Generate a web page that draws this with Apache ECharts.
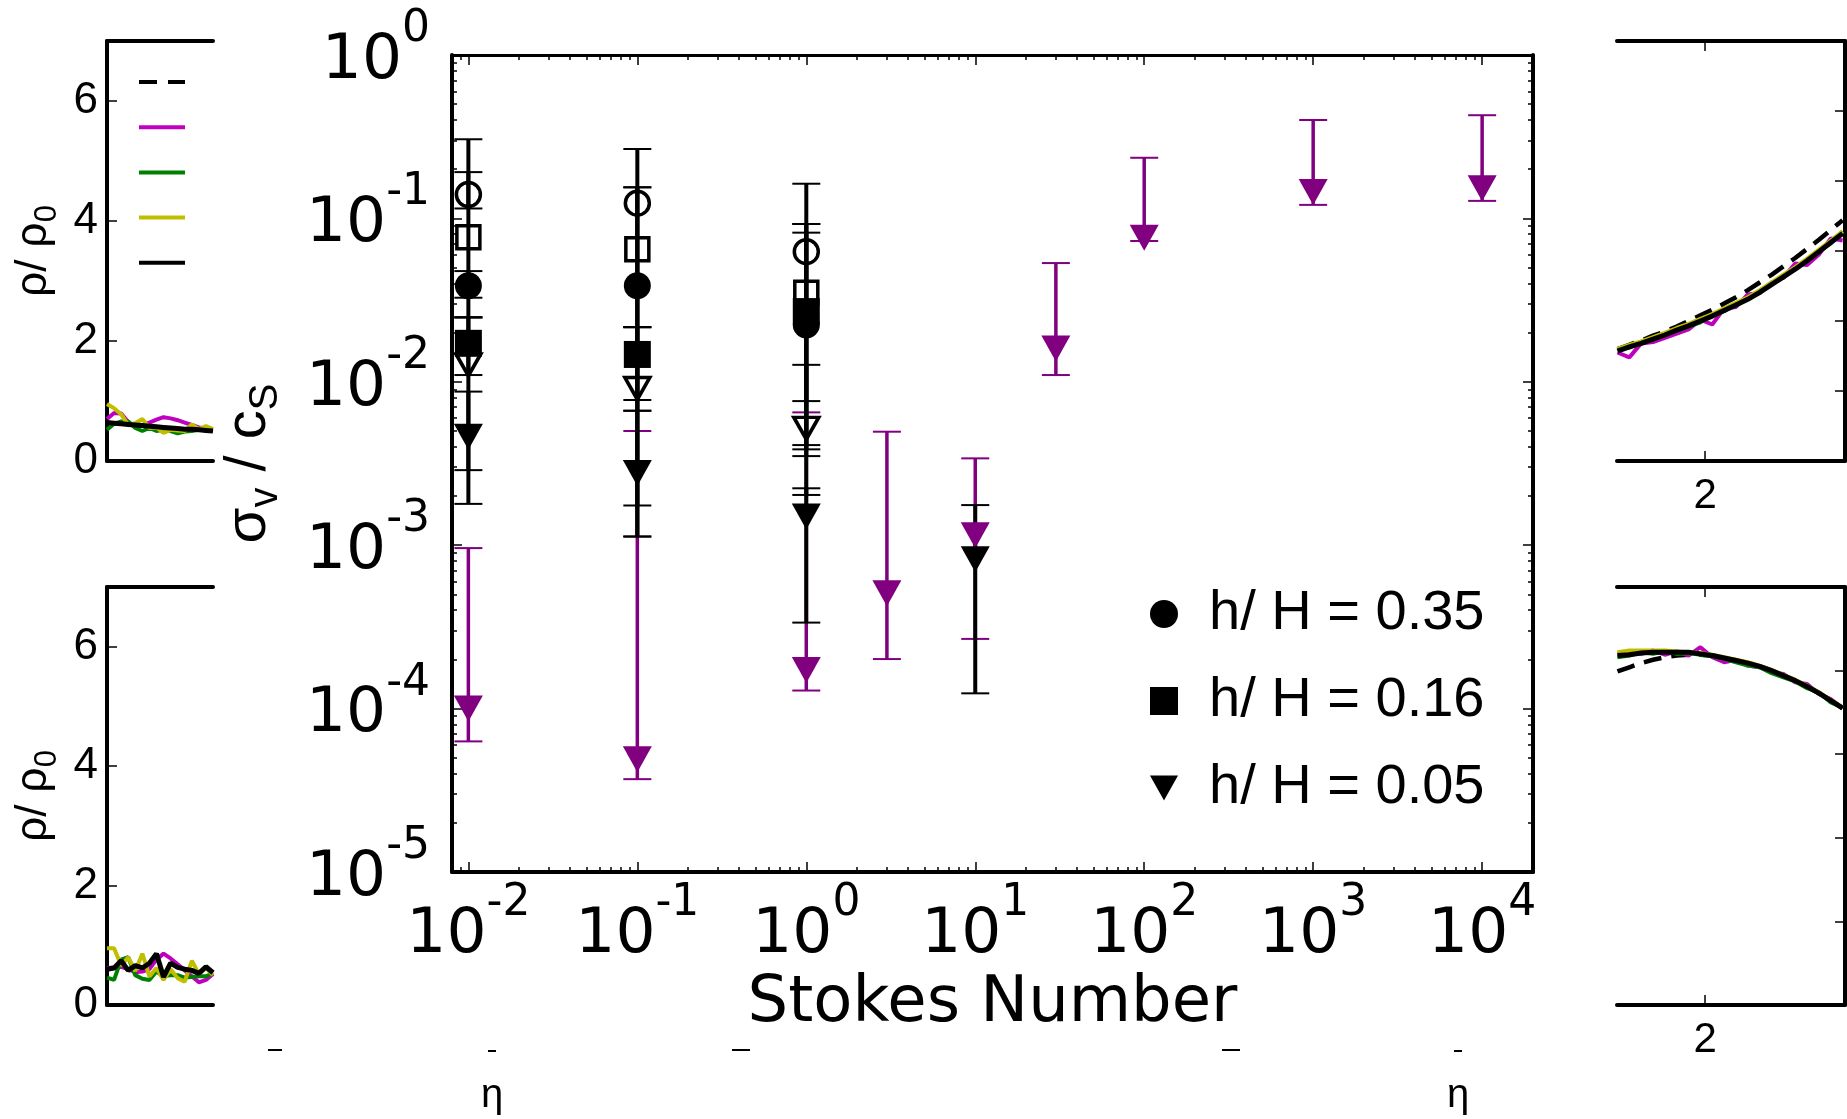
<!DOCTYPE html>
<html><head><meta charset="utf-8">
<script src="https://cdn.jsdelivr.net/npm/echarts@6/dist/echarts.min.js"></script>
<style>html,body{margin:0;padding:0;background:#fff}#c{width:1847px;height:1119px}</style>
</head><body><div id="c"></div>
<script>
// ================= MAIN PANEL DATA =================
const stokesBlack = [0.01, 0.1, 1];
const stokesBlackTri = [0.01, 0.1, 1, 10];
const stokesPurple = [0.01, 0.1, 1, 3, 10, 30, 100, 1000, 10000];

// open circles
const ocVal = [0.140, 0.124, 0.0626];
const ocLo  = [0.115, 0.00113, 0.00762];
const ocHi  = [0.305, 0.266, 0.163];
// open squares
const osVal = [0.0766, 0.0647, 0.0351];
const osLo  = [0.0248, 0.0216, 0.00351];
const osHi  = [0.192, 0.155, 0.0924];
// filled circles  (h/H = 0.35)
const fcVal = [0.0387, 0.0387, 0.0223];
const fcLo  = [0.0327, 0.00774, 0.00386];
const fcHi  = [0.0476, 0.155, 0.0924];
// filled squares  (h/H = 0.16)
const fsVal = [0.0172, 0.0147, 0.0269];
const fsLo  = [0.0110, 0.00665, 0.0041];
const fsHi  = [0.0248, 0.0216, 0.0818];
// open triangles
const otVal = [0.0127, 0.0091, 0.00519];
const otLo  = [0.00288, 0.00175, 0.00203];
const otHi  = [0.0248, 0.0216, 0.0127];
// filled black triangles (h/H = 0.05)
const ftVal = [0.00461, 0.00277, 0.0015, 0.000819];
const ftLo  = [0.00179, 0.00113, 0.000336, 0.000124];
const ftHi  = [0.00871, 0.00665, 0.00223, 0.00176];
// purple triangles
const ptVal = [1.0e-4, 4.9e-5, 1.72e-4, 5.08e-4, 0.00115, 0.0160, 0.0762, 0.145, 0.153];
const ptLo  = [6.3e-5, 3.7e-5, 1.29e-4, 2.01e-4, 2.67e-4, 0.0110, 0.0727, 0.121, 0.128];
const ptHi  = [9.6e-4, 0.0050, 0.0065, 0.00495, 0.0034, 0.0533, 0.235, 0.40, 0.428];

// tick values
const xMajorTicks = [0.01, 0.1, 1, 10, 100, 1000, 10000];
const yMajorTicks = [1e-5, 1e-4, 1e-3, 1e-2, 1e-1, 1];
const minorMantissas = [2, 3, 4, 5, 6, 7, 8, 9];
const xMinorDecades = [-2, -1, 0, 1, 2, 3];
const yMinorDecades = [-5, -4, -3, -2, -1];
const legendLabels = ['h/ H = 0.35', 'h/ H = 0.16', 'h/ H = 0.05'];

// ================= SIDE PANEL DATA =================
const leftX = [0.65, 0.665, 0.68, 0.695, 0.71, 0.725, 0.74, 0.755, 0.77, 0.785, 0.80, 0.815, 0.83, 0.845, 0.86, 0.875];
const ltBlack   = [0.64,0.63,0.62,0.61,0.60,0.59,0.58,0.57,0.56,0.55,0.54,0.53,0.53,0.52,0.51,0.50];
const ltMagenta = [0.70,0.80,0.79,0.65,0.57,0.59,0.64,0.69,0.73,0.71,0.68,0.64,0.60,0.56,0.54,0.53];
const ltGreen   = [0.52,0.62,0.66,0.66,0.55,0.50,0.55,0.50,0.52,0.50,0.46,0.49,0.50,0.52,0.52,0.53];
const ltYellow  = [0.95,0.88,0.78,0.60,0.63,0.70,0.55,0.56,0.47,0.52,0.51,0.50,0.61,0.53,0.58,0.53];
const lbBlack   = [0.60,0.62,0.74,0.58,0.66,0.62,0.70,0.86,0.47,0.70,0.63,0.60,0.58,0.53,0.64,0.54];
const lbMagenta = [0.62,0.63,0.64,0.60,0.55,0.56,0.60,0.76,0.86,0.78,0.68,0.58,0.48,0.38,0.42,0.52];
const lbGreen   = [0.46,0.42,0.76,0.80,0.50,0.44,0.42,0.56,0.48,0.50,0.50,0.46,0.47,0.48,0.48,0.53];
const lbYellow  = [0.95,0.95,0.66,0.80,0.57,0.86,0.48,0.62,0.42,0.60,0.45,0.39,0.74,0.52,0.62,0.50];

const rightX = [1.815,1.84,1.865,1.89,1.915,1.94,1.965,1.99,2.015,2.04,2.065,2.09,2.115,2.14,2.165,2.19,2.215,2.24,2.265,2.29];
const rtBlack   = [1.57,1.63,1.68,1.74,1.80,1.87,1.93,2.00,2.07,2.15,2.23,2.31,2.41,2.52,2.63,2.74,2.86,2.99,3.12,3.25];
const rtDashed  = [1.60,1.66,1.72,1.79,1.85,1.92,2.00,2.08,2.16,2.25,2.34,2.44,2.55,2.66,2.78,2.90,3.03,3.16,3.30,3.44];
const rtMagenta = [1.55,1.48,1.68,1.70,1.76,1.82,1.88,2.02,1.95,2.18,2.20,2.38,2.40,2.55,2.62,2.82,2.80,2.95,3.18,3.15];
const rtGreen   = [1.60,1.62,1.70,1.73,1.82,1.86,1.92,1.98,2.09,2.14,2.25,2.32,2.40,2.54,2.62,2.76,2.85,3.00,3.11,3.28];
const rtYellow  = [1.60,1.66,1.71,1.77,1.83,1.90,1.96,2.03,2.10,2.18,2.26,2.34,2.44,2.55,2.66,2.77,2.89,3.02,3.15,3.28];
const rbBlack   = [4.18,4.19,4.21,4.22,4.22,4.22,4.22,4.20,4.18,4.15,4.12,4.09,4.05,4.00,3.94,3.88,3.81,3.73,3.64,3.55];
const rbDashed  = [3.99,4.04,4.09,4.13,4.16,4.18,4.19,4.19,4.18,4.15,4.12,4.09,4.05,4.00,3.94,3.88,3.81,3.73,3.64,3.55];
const rbMagenta = [4.20,4.22,4.20,4.24,4.19,4.23,4.18,4.28,4.16,4.10,4.13,4.06,4.04,3.98,3.96,3.86,3.84,3.72,3.66,3.55];
const rbGreen   = [4.16,4.18,4.22,4.20,4.23,4.20,4.21,4.19,4.17,4.14,4.10,4.06,4.04,3.97,3.92,3.87,3.79,3.74,3.62,3.56];
const rbYellow  = [4.22,4.24,4.24,4.24,4.24,4.23,4.22,4.21,4.19,4.16,4.13,4.10,4.06,4.01,3.95,3.89,3.82,3.74,3.65,3.56];

const leftYTicks = [0, 2, 4, 6];
const rightXTicks = [2];
const sideNames = ['model', 'run m', 'run g', 'run y', 'fit'];

// ================= BUILD =================
const X_MIN = 0.008, X_MAX = 20000, Y_MIN = 1e-5, Y_MAX = 1;
const BLACK = '#000', PURPLE = '#800080', MAG = '#bf00bf', GRN = '#008000', YEL = '#bfbf00';
const CLEAR = 'rgba(0,0,0,0)';
const TRI = 'path://M0,0L20,0L10,18Z';
const SANS = 'Liberation Sans';
const DEJA = 'DejaVu Sans';

function minors(decs) {
  const out = [];
  decs.forEach(d => minorMantissas.forEach(m => out.push(Number((m * Math.pow(10, d)).toPrecision(3)))));
  return out;
}
const xMinorTicks = [0.009].concat(minors(xMinorDecades));
const yMinorTicks = minors(yMinorDecades);

function pairs(xs, ys) { return xs.map((x, i) => [x, ys[i]]); }
function triples(xs, lo, hi) { return xs.map((x, i) => [x, lo[i], hi[i]]); }

// power-of-ten label: exponent on a thin first line, offset right by an invisible "10"
function powLabel(v) {
  const e = Math.round(Math.log10(v));
  return '{sp|10}{s|' + e + '}\n{b|10}';
}
function powLabelY(v) {
  return '{e|.}\n' + powLabel(v);
}
const powRich = {
  e:  {fontFamily: DEJA, fontSize: 10, lineHeight: 12, color: CLEAR, align: 'left'},
  sp: {fontFamily: DEJA, fontSize: 63, lineHeight: 1, color: CLEAR, align: 'left'},
  s:  {fontFamily: DEJA, fontSize: 44, lineHeight: 1, color: BLACK, align: 'left'},
  b:  {fontFamily: DEJA, fontSize: 63, lineHeight: 63, color: BLACK, align: 'left'}
};
const tickLine = {color: BLACK, width: 1.5};
const frame = w => ({show: true, onZero: false, lineStyle: {color: BLACK, width: w}});
const noSplit = {show: false};

function errRender(color, lw) {
  return function (params, api) {
    const x = api.value(0), lo = api.value(1), hi = api.value(2);
    const t = api.coord([x, hi]), b = api.coord([x, lo]);
    const h = 14;
    return {type: 'group', children: [
      {type: 'line', shape: {x1: t[0], y1: t[1], x2: b[0], y2: b[1]}, style: {stroke: color, lineWidth: lw}},
      {type: 'line', shape: {x1: t[0] - h, y1: t[1], x2: t[0] + h, y2: t[1]}, style: {stroke: color, lineWidth: 2}},
      {type: 'line', shape: {x1: b[0] - h, y1: b[1], x2: b[0] + h, y2: b[1]}, style: {stroke: color, lineWidth: 2}}
    ]};
  };
}

function mainLogX(pos, major, lineW) {
  return {
    gridIndex: 0, type: 'log', position: pos, min: X_MIN, max: X_MAX,
    axisLine: major ? frame(lineW) : {show: false},
    axisTick: {show: true, inside: true, length: major ? 10 : 5, customValues: major ? xMajorTicks : xMinorTicks, lineStyle: tickLine},
    axisLabel: {show: false}, splitLine: noSplit
  };
}
function mainLogY(pos, major) {
  return {
    gridIndex: 0, type: 'log', position: pos, min: Y_MIN, max: Y_MAX,
    axisLine: major ? frame(4) : {show: false},
    axisTick: {show: true, inside: true, length: major ? 10 : 5, customValues: major ? yMajorTicks : yMinorTicks, lineStyle: tickLine},
    axisLabel: {show: false}, splitLine: noSplit
  };
}

const xAxes = [];
const xMain = mainLogX('bottom', true, 4);
xMain.axisLabel = {show: true, customValues: xMajorTicks, formatter: powLabel, rich: powRich, margin: 31};
xMain.name = 'Stokes Number';
xMain.nameLocation = 'middle';
xMain.nameGap = 100;
xMain.nameTextStyle = {fontFamily: DEJA, fontSize: 64, color: BLACK};
xAxes.push(xMain, mainLogX('bottom', false), mainLogX('top', true, 3), mainLogX('top', false));

function sideX(grid, pos, min, max, ticks) {
  const ax = {gridIndex: grid, type: 'value', position: pos, min: min, max: max,
    axisLine: frame(4), splitLine: noSplit, axisLabel: {show: false}, axisTick: {show: false}};
  if (ticks) {
    ax.axisTick = {show: true, inside: true, length: 10, customValues: ticks, lineStyle: tickLine};
    if (pos === 'bottom') ax.axisLabel = {show: true, customValues: ticks, fontFamily: SANS, fontSize: 42, color: BLACK, margin: 14};
  }
  return ax;
}
xAxes.push(sideX(1, 'bottom', 0.65, 0.875), sideX(1, 'top', 0.65, 0.875),
           sideX(2, 'bottom', 0.65, 0.875), sideX(2, 'top', 0.65, 0.875),
           sideX(3, 'bottom', 1.814, 2.295, rightXTicks), sideX(3, 'top', 1.814, 2.295, rightXTicks),
           sideX(4, 'bottom', 1.814, 2.295, rightXTicks), sideX(4, 'top', 1.814, 2.295, rightXTicks));

const yAxes = [];
const yMain = mainLogY('left', true);
yMain.axisLabel = {show: true, customValues: yMajorTicks, formatter: powLabelY, rich: powRich, margin: 22};
yMain.name = '{a|σ}{hv|v}{a| / c}{hv|S}\n{ha|σ}{s|v}{ha| / c}{s|S}';
yMain.nameLocation = 'middle';
yMain.nameGap = 136;
yMain.nameRotate = 90;
yMain.nameTextStyle = {color: BLACK, rich: {
  a:  {fontFamily: SANS, fontSize: 58, lineHeight: 34, color: BLACK, align: 'left'},
  hv: {fontFamily: SANS, fontSize: 40, lineHeight: 34, color: CLEAR, align: 'left'},
  ha: {fontFamily: SANS, fontSize: 58, lineHeight: 1, color: CLEAR, align: 'left'},
  s:  {fontFamily: SANS, fontSize: 40, lineHeight: 1, color: BLACK, align: 'left'}
}};
yAxes.push(yMain, mainLogY('left', false), mainLogY('right', true), mainLogY('right', false));

function leftY(grid) {
  return {gridIndex: grid, type: 'value', position: 'left', min: 0, max: 7,
    axisLine: frame(4), splitLine: noSplit,
    axisTick: {show: true, inside: true, length: 10, customValues: leftYTicks, lineStyle: tickLine},
    axisLabel: {show: true, customValues: leftYTicks, fontFamily: SANS, fontSize: 44, color: BLACK, margin: 9},
    name: '{a|ρ/ ρ}{h|0}\n{ha|ρ/ ρ}{s|0}', nameLocation: 'middle', nameGap: 48, nameRotate: 90,
    nameTextStyle: {color: BLACK, rich: {
      a:  {fontFamily: SANS, fontSize: 44, lineHeight: 26, color: BLACK, align: 'left'},
      h:  {fontFamily: SANS, fontSize: 31, lineHeight: 26, color: CLEAR, align: 'left'},
      ha: {fontFamily: SANS, fontSize: 44, lineHeight: 1, color: CLEAR, align: 'left'},
      s:  {fontFamily: SANS, fontSize: 31, lineHeight: 1, color: BLACK, align: 'left'}
    }}};
}
function rightY(grid, max) {
  return {gridIndex: grid, type: 'value', position: 'right', min: 0, max: max, interval: 1,
    axisLine: frame(4), splitLine: noSplit,
    axisTick: {show: true, inside: true, length: 10, lineStyle: tickLine},
    axisLabel: {show: false}};
}
yAxes.push(leftY(1), leftY(2), rightY(3, 6), rightY(4, 5));

const series = [];
// error bars
series.push({type: 'custom', name: 'purple errors', xAxisIndex: 0, yAxisIndex: 0, z: 3,
  renderItem: errRender(PURPLE, 3.5), encode: {x: 0, y: [1, 2]},
  data: triples(stokesPurple, ptLo, ptHi)});
series.push({type: 'custom', name: 'black errors', xAxisIndex: 0, yAxisIndex: 0, z: 4,
  renderItem: errRender(BLACK, 4), encode: {x: 0, y: [1, 2]},
  data: [].concat(triples(stokesBlack, ocLo, ocHi), triples(stokesBlack, osLo, osHi),
    triples(stokesBlack, fcLo, fcHi), triples(stokesBlack, fsLo, fsHi),
    triples(stokesBlack, otLo, otHi), triples(stokesBlackTri, ftLo, ftHi))});
// markers
const openStyle = {color: CLEAR, borderColor: BLACK, borderWidth: 3.5, opacity: 1};
series.push({type: 'scatter', name: 'h/ H = 0.05 (upper)', z: 5, symbol: TRI, symbolSize: [29, 26],
  itemStyle: {color: PURPLE, opacity: 1}, data: pairs(stokesPurple, ptVal)});
series.push({type: 'scatter', name: 'h/ H = 0.35 (open)', z: 6, symbol: 'circle', symbolSize: 24,
  itemStyle: openStyle, data: pairs(stokesBlack, ocVal)});
series.push({type: 'scatter', name: 'h/ H = 0.16 (open)', z: 6, symbol: 'rect', symbolSize: 23,
  itemStyle: openStyle, data: pairs(stokesBlack, osVal)});
series.push({type: 'scatter', name: 'h/ H = 0.05 (open)', z: 6, symbol: TRI, symbolSize: [25, 22],
  itemStyle: openStyle, data: pairs(stokesBlack, otVal)});
series.push({type: 'scatter', name: legendLabels[0], z: 7, symbol: 'circle', symbolSize: 27,
  itemStyle: {color: BLACK, opacity: 1}, data: pairs(stokesBlack, fcVal)});
series.push({type: 'scatter', name: legendLabels[1], z: 7, symbol: 'rect', symbolSize: 27,
  itemStyle: {color: BLACK, opacity: 1}, data: pairs(stokesBlack, fsVal)});
series.push({type: 'scatter', name: legendLabels[2], z: 7, symbol: TRI, symbolSize: [29, 26],
  itemStyle: {color: BLACK, opacity: 1}, data: pairs(stokesBlackTri, ftVal)});

function sideLine(name, xi, yi, xs, ys, color, width, dashed) {
  return {type: 'line', name: name, xAxisIndex: xi, yAxisIndex: yi, symbol: 'none', z: 2,
    lineStyle: {color: color, width: width, type: dashed ? [18, 10] : 'solid'}, itemStyle: {color: color},
    data: pairs(xs, ys)};
}
series.push(
  sideLine(sideNames[0], 8, 6, rightX, rtDashed, BLACK, 4.5, true),
  sideLine(sideNames[0], 10, 7, rightX, rbDashed, BLACK, 4.5, true),
  sideLine(sideNames[1], 4, 4, leftX, ltMagenta, MAG, 4),
  sideLine(sideNames[2], 4, 4, leftX, ltGreen, GRN, 4),
  sideLine(sideNames[3], 4, 4, leftX, ltYellow, YEL, 4),
  sideLine(sideNames[4], 4, 4, leftX, ltBlack, BLACK, 5),
  sideLine(sideNames[1], 6, 5, leftX, lbMagenta, MAG, 4),
  sideLine(sideNames[2], 6, 5, leftX, lbGreen, GRN, 4),
  sideLine(sideNames[3], 6, 5, leftX, lbYellow, YEL, 4),
  sideLine(sideNames[4], 6, 5, leftX, lbBlack, BLACK, 5),
  sideLine(sideNames[1], 8, 6, rightX, rtMagenta, MAG, 4),
  sideLine(sideNames[2], 8, 6, rightX, rtGreen, GRN, 4),
  sideLine(sideNames[3], 8, 6, rightX, rtYellow, YEL, 4),
  sideLine(sideNames[4], 8, 6, rightX, rtBlack, BLACK, 5),
  sideLine(sideNames[1], 10, 7, rightX, rbMagenta, MAG, 4),
  sideLine(sideNames[2], 10, 7, rightX, rbGreen, GRN, 4),
  sideLine(sideNames[3], 10, 7, rightX, rbYellow, YEL, 4),
  sideLine(sideNames[4], 10, 7, rightX, rbBlack, BLACK, 5)
);

const LINE_ICON = 'path://M0,0H46V4H0Z';
const DASH_ICON = 'path://M0,0H18V4H0Z M29,0H46V4H29Z';

const option = {
  animation: false,
  backgroundColor: '#fff',
  grid: [
    {left: 452, top: 55, width: 1081, height: 817, outerBoundsMode: 'none', containLabel: false},
    {left: 107, top: 41, width: 106, height: 420, outerBoundsMode: 'none', containLabel: false},
    {left: 107, top: 587, width: 106, height: 418, outerBoundsMode: 'none', containLabel: false},
    {left: 1617, top: 41, width: 228, height: 420, outerBoundsMode: 'none', containLabel: false},
    {left: 1617, top: 587, width: 228, height: 418, outerBoundsMode: 'none', containLabel: false}
  ],
  xAxis: xAxes,
  yAxis: yAxes,
  legend: [
    {orient: 'vertical', left: 1150, top: 584, padding: 0, itemWidth: 28, itemHeight: 28, itemGap: 27,
     data: [{name: legendLabels[0], icon: 'circle'}, {name: legendLabels[1], icon: 'rect'}, {name: legendLabels[2], icon: TRI}],
     textStyle: {fontFamily: SANS, fontSize: 56, color: BLACK, lineHeight: 60, padding: [0, 0, 0, 26]}},
    {orient: 'vertical', left: 139, top: 80, padding: 0, itemWidth: 46, itemHeight: 14, itemGap: 41.2,
     data: [{name: sideNames[0], icon: DASH_ICON}, {name: sideNames[1], icon: LINE_ICON}, {name: sideNames[2], icon: LINE_ICON},
            {name: sideNames[3], icon: LINE_ICON}, {name: sideNames[4], icon: LINE_ICON}],
     formatter: function () { return ''; },
     textStyle: {fontSize: 10, lineHeight: 14}}
  ],
  graphic: [
    {type: 'text', x: 492, y: 1096, style: {text: 'η', fontFamily: SANS, fontSize: 40, fill: BLACK, align: 'center', verticalAlign: 'middle'}},
    {type: 'text', x: 1458, y: 1096, style: {text: 'η', fontFamily: SANS, fontSize: 40, fill: BLACK, align: 'center', verticalAlign: 'middle'}},
    {type: 'line', shape: {x1: 268, y1: 1050, x2: 282, y2: 1050}, style: {stroke: BLACK, lineWidth: 2}},
    {type: 'line', shape: {x1: 732, y1: 1050, x2: 750, y2: 1050}, style: {stroke: BLACK, lineWidth: 2}},
    {type: 'line', shape: {x1: 1222, y1: 1050, x2: 1240, y2: 1050}, style: {stroke: BLACK, lineWidth: 2}},
    {type: 'line', shape: {x1: 488, y1: 1051, x2: 496, y2: 1051}, style: {stroke: BLACK, lineWidth: 2}},
    {type: 'line', shape: {x1: 1454, y1: 1051, x2: 1462, y2: 1051}, style: {stroke: BLACK, lineWidth: 2}}
  ],
  series: series
};
const chart = echarts.init(document.getElementById('c'), null, {renderer: 'canvas'});
chart.setOption(option);
</script>
</body></html>
